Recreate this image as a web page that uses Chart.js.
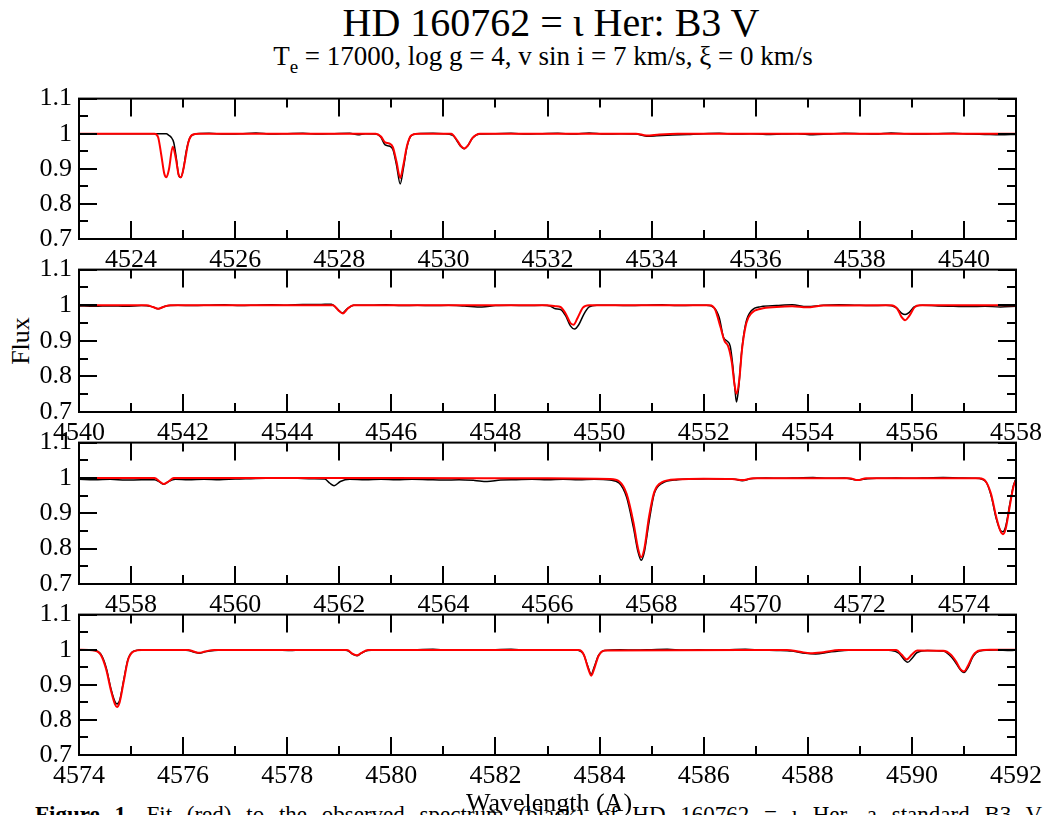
<!DOCTYPE html>
<html>
<head>
<meta charset="utf-8">
<script src="https://cdn.jsdelivr.net/npm/chart.js@4.4.1/dist/chart.umd.min.js"></script>
<style>
  html, body { margin: 0; padding: 0; background: #fff; }
  body { width: 1053px; height: 815px; position: relative; overflow: hidden; font-family: 'Liberation Serif', 'DejaVu Serif', serif; color: #000; }
  canvas { position: absolute; left: 0; }
  .txt { position: absolute; white-space: nowrap; line-height: 1; }
  #title { left: 551px; top: 3px; transform: translateX(-50%); font-size: 40px; }
  #subtitle { left: 543px; top: 43px; transform: translateX(-50%); font-size: 27px; }
  #subtitle sub { font-size: 19px; vertical-align: -8px; }
  #flux { left: 21px; top: 341px; transform: translate(-50%, -50%) rotate(-90deg); font-size: 26px; }
  #wave { left: 549px; top: 790px; transform: translateX(-50%); font-size: 26px; }
  #caption { left: 35px; top: 803px; font-size: 23px; word-spacing: 9px; }
</style>
</head>
<body>
<div class="txt" id="title">HD 160762 = ι Her: B3 V</div>
<div class="txt" id="subtitle">T<sub>e</sub> = 17000, log g = 4, v sin i = 7 km/s, ξ = 0 km/s</div>
<div class="txt" id="flux">Flux</div>
<div class="txt" id="caption"><b>Figure 1.</b> Fit (red) to the observed spectrum (black) of HD 160762 = ι Her, a standard B3 V</div>
<canvas id="c1" width="1053" height="208" style="top:76px"></canvas>
<canvas id="c2" width="1053" height="210" style="top:247px"></canvas>
<canvas id="c3" width="1053" height="209" style="top:420px"></canvas>
<canvas id="c4" width="1053" height="208" style="top:592px"></canvas>
<div class="txt" id="wave">Wavelength (A)</div>
<script>
// flux axis
const fluxTicks = [0.7, 0.8, 0.9, 1, 1.1]

// wavelength range and labelled ticks of each panel
const panelStart = [4523, 4540, 4557, 4574]
const panelEnd = [4541, 4558, 4575, 4592]
const p1Ticks = [4524, 4526, 4528, 4530, 4532, 4534, 4536, 4538, 4540]
const p2Ticks = [4540, 4542, 4544, 4546, 4548, 4550, 4552, 4554, 4556, 4558]
const p3Ticks = [4558, 4560, 4562, 4564, 4566, 4568, 4570, 4572, 4574]
const p4Ticks = [4574, 4576, 4578, 4580, 4582, 4584, 4586, 4588, 4590, 4592]

// panel 1: [wavelength, flux]
const p1Observed = [[4523,1],[4524.68,1],[4524.72,0.996],[4524.77,0.99],[4524.82,0.975],[4524.87,0.93],[4524.91,0.885],[4524.95,0.875],[4525.0,0.895],[4525.06,0.95],[4525.12,0.985],[4525.2,0.998],[4525.5,1.001],[4525.8,0.999],[4526.1,1.0],[4526.4,1.002],[4526.7,0.999],[4527.0,1.0],[4527.3,1.001],[4527.6,0.999],[4527.9,1.0],[4528.2,1.001],[4528.36,0.997],[4528.5,1.0],[4528.7,0.999],[4528.8,0.99],[4528.88,0.968],[4528.96,0.965],[4529.03,0.955],[4529.1,0.91],[4529.17,0.857],[4529.23,0.9],[4529.3,0.962],[4529.38,0.994],[4529.5,1.0],[4529.8,1.001],[4530.0,1.0],[4530.18,0.995],[4530.26,0.98],[4530.33,0.964],[4530.4,0.957],[4530.47,0.966],[4530.56,0.988],[4530.7,0.999],[4531.0,1.0],[4531.3,1.001],[4531.6,0.999],[4531.9,1.0],[4532.2,1.001],[4532.5,0.999],[4532.8,1.002],[4533.1,0.999],[4533.4,1.0],[4533.7,0.999],[4533.9,0.993],[4534.1,0.994],[4534.4,0.996],[4534.7,0.998],[4535.0,1.0],[4535.3,1.001],[4535.6,0.999],[4535.9,1.0],[4536.2,0.998],[4536.5,0.999],[4536.8,1.0],[4537.1,0.997],[4537.4,0.999],[4537.7,1.001],[4538.0,1.0],[4538.3,0.999],[4538.6,1.002],[4538.9,1.0],[4539.2,0.999],[4539.5,1.0],[4539.8,1.001],[4540.1,0.999],[4540.4,0.998],[4540.7,0.997],[4541,0.998]]
const p1Fit = [[4523,1],[4524.45,1],[4524.52,0.99],[4524.58,0.94],[4524.64,0.885],[4524.68,0.876],[4524.73,0.9],[4524.8,0.963],[4524.86,0.93],[4524.92,0.88],[4524.96,0.876],[4525.02,0.91],[4525.1,0.975],[4525.18,0.997],[4525.3,1],[4528.7,1],[4528.8,0.992],[4528.88,0.975],[4528.96,0.972],[4529.03,0.962],[4529.1,0.92],[4529.17,0.874],[4529.23,0.91],[4529.3,0.965],[4529.38,0.995],[4529.5,1],[4530.15,1],[4530.26,0.982],[4530.33,0.966],[4530.4,0.958],[4530.47,0.966],[4530.56,0.988],[4530.7,1],[4533.7,1],[4533.9,0.995],[4534.15,0.998],[4534.5,1],[4541,1]]

// panel 2
const p2Observed = [[4540,0.998],[4540.3,0.997],[4540.6,0.998],[4540.9,0.997],[4541.2,0.999],[4541.4,0.996],[4541.52,0.99],[4541.65,0.997],[4541.9,1.0],[4542.2,0.999],[4542.5,1.0],[4542.8,1.001],[4543.1,0.999],[4543.4,1.0],[4543.7,1.001],[4544.0,1.0],[4544.3,1.002],[4544.6,1.002],[4544.85,1.003],[4544.96,0.99],[4545.06,0.978],[4545.15,0.99],[4545.28,1.0],[4545.6,1.0],[4545.9,1.001],[4546.2,0.999],[4546.5,1.0],[4546.8,0.999],[4547.1,1.0],[4547.4,0.998],[4547.74,0.995],[4548.0,0.999],[4548.3,1.0],[4548.6,0.999],[4548.9,1.0],[4549.05,0.998],[4549.15,0.99],[4549.25,0.988],[4549.35,0.97],[4549.44,0.942],[4549.52,0.933],[4549.6,0.945],[4549.7,0.975],[4549.8,0.995],[4549.95,1.0],[4550.3,1.0],[4550.6,0.999],[4550.9,1.0],[4551.2,1.001],[4551.5,0.999],[4551.8,1.0],[4552.05,1.0],[4552.2,0.993],[4552.3,0.965],[4552.38,0.91],[4552.45,0.899],[4552.51,0.885],[4552.56,0.83],[4552.6,0.765],[4552.63,0.728],[4552.67,0.765],[4552.73,0.87],[4552.81,0.95],[4552.92,0.985],[4553.1,0.996],[4553.4,0.999],[4553.7,1.001],[4553.98,0.996],[4554.3,1.0],[4554.6,1.001],[4554.9,1.0],[4555.2,0.999],[4555.5,1.0],[4555.7,0.993],[4555.8,0.978],[4555.87,0.974],[4555.95,0.98],[4556.05,0.996],[4556.2,1.0],[4556.5,0.998],[4556.8,0.997],[4557.1,0.996],[4557.4,0.997],[4557.7,0.995],[4558,0.997]]
const p2Fit = [[4540,1],[4541.3,1],[4541.42,0.995],[4541.52,0.99],[4541.62,0.995],[4541.75,1],[4544.88,1],[4544.98,0.986],[4545.07,0.977],[4545.16,0.99],[4545.27,1],[4549.0,1],[4549.15,0.997],[4549.25,0.995],[4549.35,0.976],[4549.44,0.95],[4549.5,0.945],[4549.58,0.965],[4549.68,0.993],[4549.8,1],[4552.12,1],[4552.22,0.988],[4552.32,0.94],[4552.4,0.9],[4552.47,0.885],[4552.54,0.84],[4552.59,0.78],[4552.63,0.751],[4552.68,0.785],[4552.74,0.88],[4552.82,0.95],[4552.92,0.978],[4553.1,0.99],[4553.4,0.995],[4553.7,0.997],[4553.98,0.994],[4554.3,0.999],[4555.6,1],[4555.72,0.99],[4555.8,0.967],[4555.87,0.958],[4555.95,0.97],[4556.05,0.994],[4556.15,1],[4558,1]]

// panel 3
const p3Observed = [[4557,0.996],[4557.3,0.995],[4557.6,0.996],[4557.9,0.994],[4558.2,0.995],[4558.45,0.995],[4558.55,0.988],[4558.63,0.982],[4558.72,0.99],[4558.85,0.996],[4559.1,0.995],[4559.4,0.996],[4559.7,0.995],[4560.0,0.997],[4560.3,0.998],[4560.6,0.999],[4560.9,1.0],[4561.2,0.999],[4561.5,0.998],[4561.72,0.997],[4561.82,0.985],[4561.9,0.978],[4562.02,0.99],[4562.2,0.996],[4562.5,0.995],[4562.8,0.996],[4563.1,0.995],[4563.4,0.996],[4563.7,0.995],[4564.0,0.994],[4564.3,0.995],[4564.6,0.993],[4564.84,0.99],[4565.1,0.994],[4565.4,0.995],[4565.7,0.996],[4566.0,0.995],[4566.3,0.996],[4566.6,0.995],[4566.9,0.996],[4567.2,0.994],[4567.38,0.985],[4567.52,0.945],[4567.65,0.86],[4567.74,0.79],[4567.8,0.767],[4567.86,0.79],[4567.95,0.875],[4568.05,0.955],[4568.2,0.985],[4568.5,0.995],[4568.8,0.997],[4569.1,0.998],[4569.4,0.997],[4569.6,0.996],[4569.74,0.992],[4569.9,0.998],[4570.2,1.0],[4570.5,0.999],[4570.8,1.0],[4571.1,1.001],[4571.4,0.999],[4571.7,1.0],[4571.96,0.994],[4572.15,0.998],[4572.4,0.999],[4572.7,1.0],[4573.0,0.999],[4573.3,1.0],[4573.6,1.001],[4573.9,1.0],[4574.2,0.999],[4574.35,0.996],[4574.44,0.985],[4574.53,0.945],[4574.62,0.885],[4574.7,0.852],[4574.75,0.848],[4574.8,0.862],[4574.88,0.925],[4574.95,0.978],[4575,0.998]]
const p3Fit = [[4557,1],[4558.45,1],[4558.55,0.99],[4558.63,0.983],[4558.72,0.99],[4558.82,1],[4563,1],[4566,0.999],[4567.2,0.997],[4567.38,0.99],[4567.52,0.955],[4567.65,0.875],[4567.74,0.8],[4567.8,0.776],[4567.86,0.8],[4567.95,0.89],[4568.05,0.96],[4568.2,0.988],[4568.5,0.996],[4569.0,0.998],[4569.55,0.997],[4569.74,0.994],[4569.95,0.999],[4571.8,0.999],[4571.96,0.994],[4572.12,0.999],[4574.3,0.999],[4574.42,0.99],[4574.52,0.955],[4574.62,0.89],[4574.7,0.85],[4574.75,0.841],[4574.8,0.855],[4574.88,0.92],[4574.95,0.975],[4575,0.995]]

// panel 4
const p4Observed = [[4574,1],[4574.3,0.998],[4574.42,0.987],[4574.52,0.95],[4574.62,0.885],[4574.69,0.852],[4574.73,0.845],[4574.78,0.855],[4574.86,0.915],[4574.94,0.972],[4575.05,0.996],[4575.3,1.0],[4575.6,0.999],[4575.9,1.0],[4576.1,0.998],[4576.22,0.993],[4576.31,0.99],[4576.42,0.994],[4576.6,0.998],[4576.9,1.0],[4577.2,0.999],[4577.5,1.0],[4577.8,0.999],[4578.1,0.998],[4578.4,1.0],[4578.7,0.999],[4579.0,1.0],[4579.15,0.998],[4579.26,0.987],[4579.34,0.983],[4579.42,0.99],[4579.55,0.998],[4579.9,1.0],[4580.2,0.999],[4580.5,1.0],[4580.8,1.001],[4581.1,0.999],[4581.4,1.0],[4581.7,0.999],[4582.0,1.0],[4582.3,1.001],[4582.6,0.999],[4582.9,1.0],[4583.2,0.999],[4583.5,1.0],[4583.68,0.99],[4583.77,0.955],[4583.84,0.93],[4583.9,0.952],[4583.98,0.984],[4584.1,0.998],[4584.4,1.0],[4584.7,0.999],[4585.0,1.0],[4585.3,1.001],[4585.6,0.999],[4585.9,1.0],[4586.2,0.999],[4586.5,1.0],[4586.8,1.001],[4587.1,0.999],[4587.4,0.998],[4587.7,0.996],[4587.95,0.99],[4588.15,0.988],[4588.4,0.993],[4588.7,0.998],[4589.0,1.0],[4589.3,0.999],[4589.6,0.998],[4589.75,0.99],[4589.86,0.97],[4589.92,0.964],[4590.0,0.975],[4590.1,0.992],[4590.3,0.998],[4590.6,0.996],[4590.72,0.985],[4590.82,0.968],[4590.92,0.945],[4591.0,0.935],[4591.08,0.95],[4591.18,0.982],[4591.3,0.996],[4591.6,0.999],[4591.9,0.998],[4592,0.999]]
const p4Fit = [[4574,1],[4574.3,0.998],[4574.42,0.985],[4574.52,0.945],[4574.62,0.88],[4574.69,0.845],[4574.73,0.837],[4574.78,0.85],[4574.86,0.91],[4574.94,0.97],[4575.05,0.995],[4575.2,0.999],[4576.1,0.999],[4576.22,0.994],[4576.31,0.991],[4576.42,0.995],[4576.6,0.999],[4579.15,0.999],[4579.26,0.988],[4579.34,0.984],[4579.42,0.99],[4579.55,0.999],[4583.6,0.999],[4583.7,0.985],[4583.78,0.947],[4583.84,0.926],[4583.9,0.947],[4583.98,0.982],[4584.1,0.998],[4587.6,0.999],[4587.85,0.994],[4588.05,0.99],[4588.3,0.993],[4588.6,0.999],[4589.7,0.999],[4589.8,0.986],[4589.9,0.972],[4590.0,0.986],[4590.1,0.998],[4590.6,0.997],[4590.75,0.986],[4590.85,0.966],[4590.94,0.943],[4591.0,0.938],[4591.08,0.955],[4591.18,0.985],[4591.3,0.998],[4591.5,1],[4592,1]]

const observed = [p1Observed, p2Observed, p3Observed, p4Observed]
const fits = [p1Fit, p2Fit, p3Fit, p4Fit]
const waveTicks = [p1Ticks, p2Ticks, p3Ticks, p4Ticks]

Chart.defaults.font.family = "'Liberation Serif', 'DejaVu Serif', serif"
Chart.defaults.font.size = 26
Chart.defaults.color = '#000'

// box round the plot with inward ticks on all four sides
const frameTicks = {
    id: 'frameTicks',
    afterDraw(chart, args, opts) {
        const ctx = chart.ctx
        const a = chart.chartArea
        const x = chart.scales.x
        const y = chart.scales.y
        const seg = (x0, y0, x1, y1) => {
            ctx.beginPath()
            ctx.moveTo(x0, y0)
            ctx.lineTo(x1, y1)
            ctx.stroke()
        }
        ctx.save()
        ctx.strokeStyle = '#000'
        ctx.lineWidth = 2
        const major = opts.major || []
        for (let v = Math.ceil(x.min); v <= x.max; v++) {
            if (v <= x.min || v >= x.max) continue
            const len = major.includes(v) ? 18 : 9
            const px = Math.round(x.getPixelForValue(v))
            seg(px, a.bottom, px, a.bottom - len)
            seg(px, a.top, px, a.top + len)
        }
        for (let i = 0; i < fluxTicks.length; i++) {
            const py = Math.round(y.getPixelForValue(fluxTicks[i]))
            seg(a.left, py, a.left + 18, py)
            seg(a.right, py, a.right - 18, py)
            if (i < fluxTicks.length - 1) {
                const my = Math.round(y.getPixelForValue((fluxTicks[i] + fluxTicks[i + 1]) / 2))
                seg(a.left, my, a.left + 9, my)
                seg(a.right, my, a.right - 9, my)
            }
        }
        ctx.strokeRect(a.left, a.top, a.right - a.left, a.bottom - a.top)
        ctx.restore()
    }
}

for (let i = 0; i < 4; i++) {
    const ticksHere = waveTicks[i]
    new Chart(document.getElementById('c' + (i + 1)), {
        type: 'line',
        data: {
            datasets: [{
                data: fits[i].map((p) => ({ x: p[0], y: p[1] })),
                borderColor: '#ff0000',
                borderWidth: 2,
                pointRadius: 0,
                cubicInterpolationMode: 'monotone',
                order: 0
            }, {
                data: observed[i].map((p) => ({ x: p[0], y: p[1] })),
                borderColor: '#000000',
                borderWidth: 1.5,
                pointRadius: 0,
                cubicInterpolationMode: 'monotone',
                order: 1
            }]
        },
        options: {
            responsive: false,
            animation: false,
            devicePixelRatio: 1,
            layout: { padding: { top: 20, right: 37, left: 0, bottom: 0 } },
            plugins: {
                legend: { display: false },
                tooltip: { enabled: false },
                title: { display: false },
                frameTicks: { major: ticksHere }
            },
            scales: {
                x: {
                    type: 'linear',
                    min: panelStart[i],
                    max: panelEnd[i],
                    grid: { display: false, drawTicks: false },
                    border: { display: false },
                    afterBuildTicks: (s) => { s.ticks = ticksHere.map((v) => ({ value: v })) },
                    afterFit: (s) => { s.height = 45 },
                    ticks: { autoSkip: false, maxRotation: 0, padding: 6, callback: (v) => String(v) }
                },
                y: {
                    min: 0.7,
                    max: 1.1,
                    grid: { display: false, drawTicks: false },
                    border: { display: false },
                    afterBuildTicks: (s) => { s.ticks = fluxTicks.map((v) => ({ value: v })) },
                    afterFit: (s) => { s.width = 79 },
                    ticks: { padding: 7, callback: (v) => String(Math.round(v * 10) / 10) }
                }
            }
        },
        plugins: [frameTicks]
    })
}
</script>
</body>
</html>
